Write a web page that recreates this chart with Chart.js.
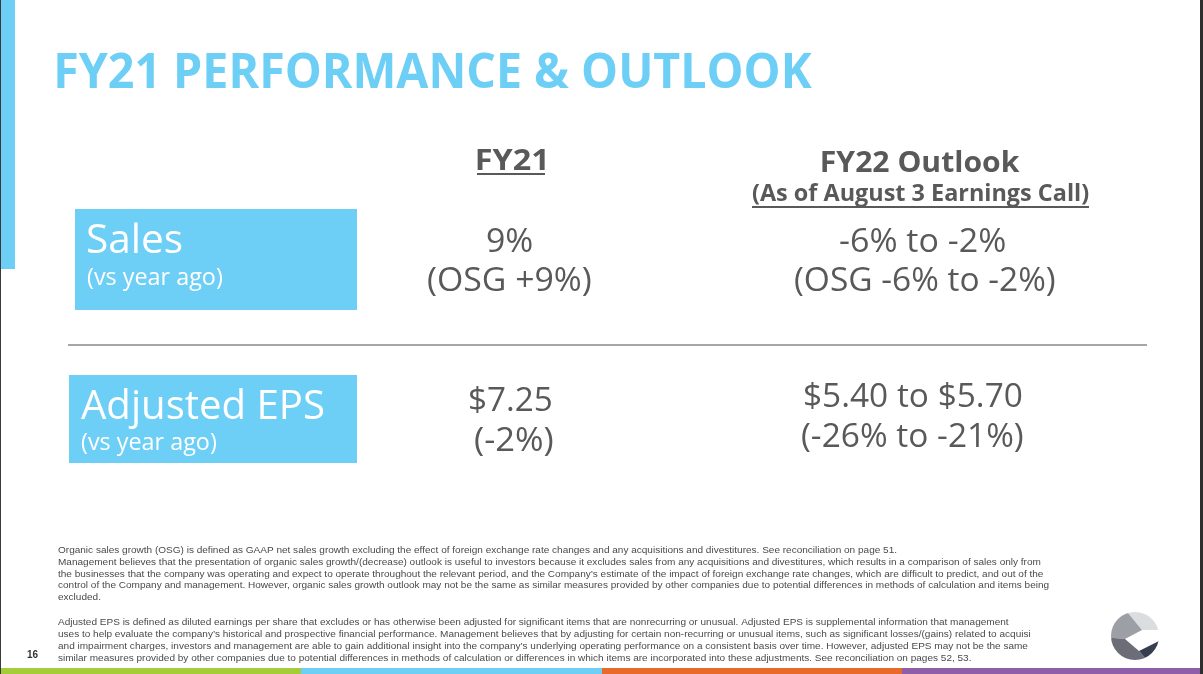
<!DOCTYPE html>
<html>
<head>
<meta charset="utf-8">
<script src="https://cdn.jsdelivr.net/npm/chart.js@4.4.1/dist/chart.umd.min.js"></script>
<style>
  html, body { margin: 0; padding: 0; background: #ffffff; }
  #wrap { position: relative; width: 1203px; height: 674px; overflow: hidden; }
</style>
</head>
<body>
<div id="wrap"><canvas id="slide"></canvas></div>
<script>
// ---------- DATA ----------
const slideTitle = "FY21 PERFORMANCE & OUTLOOK";
const columnHeaders = ["FY21", "FY22 Outlook"];
const columnSubheader = "(As of August 3 Earnings Call)";
const rowLabels = ["Sales", "Adjusted EPS"];
const rowSubLabels = ["(vs year ago)", "(vs year ago)"];
const fy21Values = ["9%", "$7.25"];
const fy21Details = ["(OSG +9%)", "(-2%)"];
const fy22Values = ["-6% to -2%", "$5.40 to $5.70"];
const fy22Details = ["(OSG -6% to -2%)", "(-26% to -21%)"];
const footnoteOSG = [
  "Organic sales growth (OSG) is defined as GAAP net sales growth excluding the effect of foreign exchange rate changes and any acquisitions and divestitures. See reconciliation on page 51.",
  "Management believes that the presentation of organic sales growth/(decrease) outlook is useful to investors because it excludes sales from any acquisitions and divestitures, which results in a comparison of sales only from",
  "the businesses that the company was operating and expect to operate throughout the relevant period, and the Company\u2019s estimate of the impact of foreign exchange rate changes, which are difficult to predict, and out of the",
  "control of the Company and management. However, organic sales growth outlook may not be the same as similar measures provided by other companies due to potential differences in methods of calculation and items being",
  "excluded."
];
const footnoteEPS = [
  "Adjusted EPS is defined as diluted earnings per share that excludes or has otherwise been adjusted for significant items that are nonrecurring or unusual. Adjusted EPS is supplemental information that management",
  "uses to help evaluate the company\u2019s historical and prospective financial performance. Management believes that by adjusting for certain non-recurring or unusual items, such as significant losses/(gains) related to acquisi",
  "and impairment charges, investors and management are able to gain additional insight into the company\u2019s underlying operating performance on a consistent basis over time. However, adjusted EPS may not be the same",
  "similar measures provided by other companies due to potential differences in methods of calculation or differences in which items are incorporated into these adjustments. See reconciliation on pages 52, 53."
];
const pageNumber = "16";

// ---------- STYLE / LAYOUT ----------
const BLUE = "#6dcff6";
const GRAY_TEXT = "#595959";
const FOOT_TEXT = "#4a4a4a";
const bandColors = ["#a5cd39", "#6dcff6", "#e86a2a", "#8e5fa8"];

const layout = {
  title: { l: 57, r: 812, y: 88, font: "bold 49px 'Open Sans'" },
  headers: [
    { l: 477, r: 545, y: 170, font: "bold 28px 'Open Sans'", underline: 173 },
    { l: 822, r: 1020, y: 172, font: "bold 28px 'Open Sans'" }
  ],
  subheader: { l: 752, r: 1089, y: 201, font: "bold 24px 'Open Sans'", underline: 206 },
  boxes: [
    { x: 75, y: 209, w: 282, h: 101 },
    { x: 69, y: 375, w: 288, h: 88 }
  ],
  labels: [
    { l: 88, r: 182, y: 253 },
    { l: 81, r: 324, y: 419 }
  ],
  subLabels: [
    { l: 87, r: 222, y: 285 },
    { l: 81, r: 216, y: 450 }
  ],
  fy21Val: [ { l: 487, r: 532, y: 252 }, { l: 470, r: 551, y: 411 } ],
  fy21Det: [ { l: 428, r: 591, y: 291 }, { l: 475, r: 553, y: 451 } ],
  fy22Val: [ { l: 840, r: 1005, y: 252 }, { l: 805, r: 1022, y: 407 } ],
  fy22Det: [ { l: 795, r: 1055, y: 291 }, { l: 802, r: 1023, y: 447 } ],
  separator: { x1: 68, x2: 1147, y: 345 },
  footX: 58,
  footOSGy: [553, 565, 577, 588, 600],
  footEPSy: [625, 637, 649, 661],
  footFirstRight: 897
};

function fitText(ctx, text, l, r, baseline, font, color) {
  ctx.save();
  ctx.font = font;
  ctx.fillStyle = color;
  ctx.textAlign = "left";
  ctx.textBaseline = "alphabetic";
  const m = ctx.measureText(text);
  const vis = m.actualBoundingBoxLeft + m.actualBoundingBoxRight;
  const s = (r - l) / vis;
  ctx.translate(l, baseline);
  ctx.scale(s, 1);
  ctx.fillText(text, m.actualBoundingBoxLeft, 0);
  ctx.restore();
}

function drawLogo(ctx, cx, cy, R) {
  const P = (pts) => { ctx.beginPath(); pts.forEach((p, i) => i ? ctx.lineTo(cx + p[0], cy + p[1]) : ctx.moveTo(cx + p[0], cy + p[1])); ctx.closePath(); };
  ctx.save();
  ctx.beginPath(); ctx.arc(cx, cy, R, 0, Math.PI * 2); ctx.clip();
  const A = [-10, 3], U = [7, -6], L = [4, 15];
  // light gray (top right)
  ctx.fillStyle = "#dcdddf";
  P([U, [-12, -29], [32, -29], [32, -6]]); ctx.fill();
  // mid gray (upper left)
  ctx.fillStyle = "#9c9fa5";
  P([A, U, [-12, -29], [-32, -29], [-32, 1]]); ctx.fill();
  // dark gray (lower left)
  ctx.fillStyle = "#6b6e76";
  P([A, [-32, 1], [-32, 32], [19, 32], L]); ctx.fill();
  // navy (lower right)
  ctx.fillStyle = "#363e50";
  P([L, [19, 32], [32, 32], [32, 1]]); ctx.fill();
  ctx.restore();
}

const slidePlugin = {
  id: "slidePlugin",
  beforeDraw(chart) {
    const ctx = chart.ctx;
    ctx.save();
    ctx.fillStyle = "#ffffff";
    ctx.fillRect(0, 0, 1203, 674);
    ctx.restore();
  },
  afterDraw(chart) {
    const ctx = chart.ctx;
    ctx.save();
    // left accent bar
    ctx.fillStyle = BLUE;
    ctx.fillRect(1, 0, 14, 269);
    // title
    const t = layout.title;
    fitText(ctx, slideTitle, t.l, t.r, t.y, t.font, BLUE);
    // column headers
    columnHeaders.forEach((h, i) => {
      const c = layout.headers[i];
      fitText(ctx, h, c.l, c.r, c.y, c.font, GRAY_TEXT);
      if (c.underline) { ctx.fillStyle = GRAY_TEXT; ctx.fillRect(c.l, c.underline, c.r - c.l, 2); }
    });
    const sh = layout.subheader;
    fitText(ctx, columnSubheader, sh.l, sh.r, sh.y, sh.font, GRAY_TEXT);
    ctx.fillStyle = GRAY_TEXT; ctx.fillRect(sh.l, sh.underline, sh.r - sh.l, 2);
    // row label boxes
    rowLabels.forEach((lab, i) => {
      const b = layout.boxes[i];
      ctx.fillStyle = BLUE;
      ctx.fillRect(b.x, b.y, b.w, b.h);
      const p = layout.labels[i];
      fitText(ctx, lab, p.l, p.r, p.y, "40px 'Open Sans'", "#ffffff");
      const q = layout.subLabels[i];
      fitText(ctx, rowSubLabels[i], q.l, q.r, q.y, "23px 'Open Sans'", "#ffffff");
    });
    // values
    const valFont = "33px 'Open Sans'";
    fy21Values.forEach((v, i) => { const p = layout.fy21Val[i]; fitText(ctx, v, p.l, p.r, p.y, valFont, GRAY_TEXT); });
    fy21Details.forEach((v, i) => { const p = layout.fy21Det[i]; fitText(ctx, v, p.l, p.r, p.y, valFont, GRAY_TEXT); });
    fy22Values.forEach((v, i) => { const p = layout.fy22Val[i]; fitText(ctx, v, p.l, p.r, p.y, valFont, GRAY_TEXT); });
    fy22Details.forEach((v, i) => { const p = layout.fy22Det[i]; fitText(ctx, v, p.l, p.r, p.y, valFont, GRAY_TEXT); });
    // separator
    const s = layout.separator;
    ctx.strokeStyle = "#a6a6a6"; ctx.lineWidth = 2;
    ctx.beginPath(); ctx.moveTo(s.x1, s.y); ctx.lineTo(s.x2, s.y); ctx.stroke();
    // footnotes
    const footFont = "9px 'Liberation Sans'";
    ctx.font = footFont;
    const w0 = ctx.measureText(footnoteOSG[0]).width;
    const fs = (layout.footFirstRight - layout.footX) / w0;
    ctx.fillStyle = FOOT_TEXT;
    ctx.textAlign = "left"; ctx.textBaseline = "alphabetic";
    const drawFoot = (line, y) => { ctx.save(); ctx.translate(layout.footX, y); ctx.scale(fs, 1); ctx.fillText(line, 0, 0); ctx.restore(); };
    footnoteOSG.forEach((line, i) => drawFoot(line, layout.footOSGy[i]));
    footnoteEPS.forEach((line, i) => drawFoot(line, layout.footEPSy[i]));
    // page number
    ctx.font = "bold 10px 'Liberation Sans'";
    ctx.fillStyle = "#333333";
    ctx.fillText(pageNumber, 27, 658);
    // logo
    drawLogo(ctx, 1135, 636, 24);
    // bottom colour band
    const bw = 1203 / bandColors.length;
    bandColors.forEach((c, i) => { ctx.fillStyle = c; ctx.fillRect(Math.round(i * bw), 668, Math.ceil(bw) + 1, 6); });
    // frame edges
    ctx.fillStyle = "#3a3a3a";
    ctx.fillRect(0, 0, 1, 674);
    ctx.fillStyle = "#2e2e2e";
    ctx.fillRect(1200, 0, 3, 674);
    ctx.restore();
  }
};

new Chart(document.getElementById("slide"), {
  type: "bar",
  data: {
    labels: rowLabels,
    datasets: [{ label: "FY21", data: [], backgroundColor: BLUE }]
  },
  options: {
    responsive: true,
    maintainAspectRatio: false,
    animation: false,
    events: [],
    layout: { padding: 0 },
    plugins: { legend: { display: false }, tooltip: { enabled: false }, title: { display: false } },
    scales: { x: { display: false }, y: { display: false } }
  },
  plugins: [slidePlugin]
});
</script>
</body>
</html>
